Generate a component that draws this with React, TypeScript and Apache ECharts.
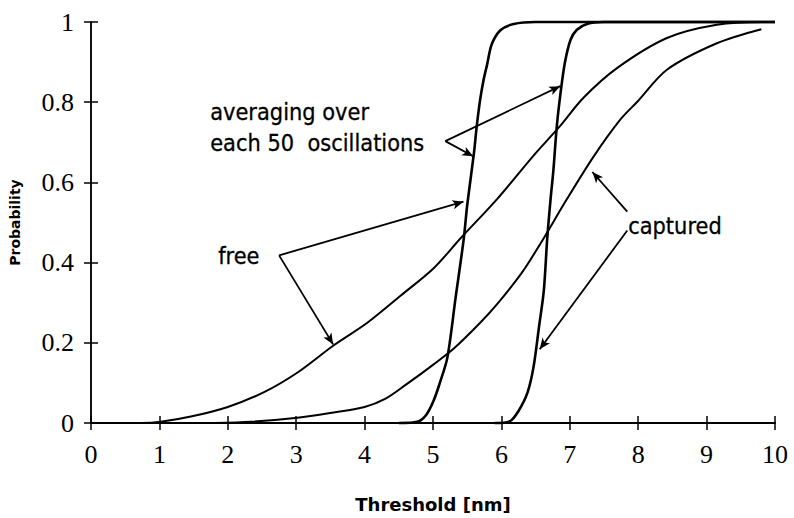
import React, { useEffect, useRef } from "react";
import * as echarts from "echarts";

// Threshold [nm] vs probability, four cumulative curves
const freeAvg: [number, number][] = [
  [4.5, 0], [4.77, 0.003], [4.9, 0.02], [5.01, 0.056], [5.1, 0.1], [5.21, 0.163],
  [5.33, 0.312], [5.45, 0.46], [5.5, 0.543], [5.6, 0.675], [5.64, 0.741],
  [5.69, 0.807], [5.74, 0.856], [5.79, 0.893], [5.86, 0.945], [5.99, 0.98],
  [6.18, 0.995], [6.5, 1], [10, 1],
];
const capturedAvg: [number, number][] = [
  [5.9, 0], [6.12, 0.004], [6.25, 0.03], [6.38, 0.075], [6.47, 0.14],
  [6.55, 0.24], [6.62, 0.33], [6.67, 0.46], [6.72, 0.56], [6.76, 0.63],
  [6.81, 0.74], [6.87, 0.83], [6.93, 0.9], [7.01, 0.955], [7.1, 0.98],
  [7.25, 0.995], [7.5, 1], [10, 1],
];
const freeWide: [number, number][] = [
  [0.5, 0], [0.73, 0], [1.02, 0.003], [1.46, 0.016], [2.0, 0.04], [2.53, 0.077],
  [3.02, 0.126], [3.55, 0.194], [4.04, 0.25], [4.53, 0.318], [5.01, 0.386],
  [5.4, 0.46], [5.94, 0.559], [6.47, 0.667], [6.84, 0.737], [7.2, 0.811],
  [7.69, 0.885], [8.42, 0.96], [9.15, 0.993], [9.83, 1.0], [10, 1],
];
const capturedWide: [number, number][] = [
  [1.8, 0], [2.34, 0.003], [3.02, 0.013], [3.5, 0.025], [4.0, 0.04],
  [4.3, 0.06], [4.6, 0.095], [5.0, 0.145], [5.3, 0.185], [5.69, 0.25],
  [5.94, 0.297], [6.3, 0.375], [6.57, 0.447], [6.96, 0.559], [7.35, 0.665],
  [7.74, 0.757], [7.98, 0.8], [8.42, 0.881], [9.15, 0.947], [9.8, 0.982],
];

// Annotation arrows in data coordinates: [from, to]
const arrows: [[number, number], [number, number]][] = [
  [[5.18, 0.703], [5.587, 0.665]],
  [[5.18, 0.703], [6.86, 0.84]],
  [[2.75, 0.418], [3.54, 0.196]],
  [[2.75, 0.418], [5.445, 0.552]],
  [[7.84, 0.527], [7.33, 0.626]],
  [[7.84, 0.48], [6.56, 0.184]],
];

const xTicks = [0, 10, 1];
const yTicks = [0, 1, 0.2];

const SERIF = "'Liberation Serif', 'DejaVu Serif', serif";
const SANS = "'DejaVu Sans', sans-serif";

export default function App() {
  const ref = useRef<HTMLDivElement>(null);

  useEffect(() => {
    if (!ref.current) return;
    const chart = echarts.init(ref.current, null, { renderer: "svg" });

    const axisLine = (w: number) => ({ show: true, lineStyle: { color: "#000", width: w } });
    const tick = { show: true, inside: true, length: 7, lineStyle: { color: "#000", width: 1.5 } };
    const curve = (name: string, data: [number, number][], w: number, extra: any = {}) => ({
      name,
      type: "line",
      data,
      showSymbol: false,
      smooth: 0.3,
      clip: false,
      lineStyle: { color: "#000", width: w },
      silent: true,
      ...extra,
    });
    const note = (text: string, left: number, top: number) => ({
      type: "text",
      left,
      top,
      scaleY: 1.12,
      style: { text, font: `21px ${SANS}`, fill: "#000", stroke: "#000", lineWidth: 0.3 },
    });

    chart.setOption({
      animation: false,
      backgroundColor: "#fff",
      grid: { left: 90, right: 19, top: 22, bottom: 92 },
      xAxis: [
        {
          type: "value",
          min: xTicks[0],
          max: xTicks[1],
          interval: xTicks[2],
          position: "bottom",
          axisLine: axisLine(2),
          axisTick: tick,
          splitLine: { show: false },
          axisLabel: { fontFamily: SERIF, fontSize: 26, color: "#000", margin: 18 },
          name: "Threshold [nm]",
          nameLocation: "middle",
          nameGap: 72,
          nameTextStyle: { fontFamily: SANS, fontWeight: "bold", fontSize: 18, color: "#000" },
        },
        {
          type: "value",
          min: xTicks[0],
          max: xTicks[1],
          interval: xTicks[2],
          position: "top",
          axisLine: axisLine(1.5),
          axisTick: tick,
          splitLine: { show: false },
          axisLabel: { show: false },
        },
      ],
      yAxis: [
        {
          type: "value",
          min: yTicks[0],
          max: yTicks[1],
          interval: yTicks[2],
          position: "left",
          axisLine: axisLine(1.5),
          axisTick: tick,
          splitLine: { show: false },
          axisLabel: {
            fontFamily: SERIF,
            fontSize: 26,
            color: "#000",
            margin: 17,
            formatter: (v: number) => (v === 0 || v === 1 ? String(v) : v.toFixed(1)),
          },
          name: "Probability",
          nameLocation: "middle",
          nameGap: 69,
          nameTextStyle: { fontFamily: SANS, fontWeight: "bold", fontSize: 14, color: "#000" },
        },
        {
          type: "value",
          min: yTicks[0],
          max: yTicks[1],
          interval: yTicks[2],
          position: "right",
          axisLine: axisLine(1.5),
          axisTick: tick,
          splitLine: { show: false },
          axisLabel: { show: false },
        },
      ],
      series: [
        curve("free (wide)", freeWide, 2, {
          markLine: {
            silent: true,
            animation: false,
            symbol: ["none", "arrow"],
            symbolSize: [7, 11],
            label: { show: false },
            lineStyle: { color: "#000", width: 1.8, type: "solid" },
            data: arrows.map(([a, b]) => [{ coord: a }, { coord: b }]),
          },
        }),
        curve("captured (wide)", capturedWide, 2),
        curve("free (averaged)", freeAvg, 2.6),
        curve("captured (averaged)", capturedAvg, 2.6),
      ],
      graphic: [
        note("averaging over", 210, 100),
        note("each 50  oscillations", 210, 131),
        note("free", 218, 244),
        note("captured", 628, 214),
      ],
    });

    return () => chart.dispose();
  }, []);

  return <div ref={ref} style={{ position: "fixed", left: 0, top: 0, width: 794, height: 518 }} />;
}
